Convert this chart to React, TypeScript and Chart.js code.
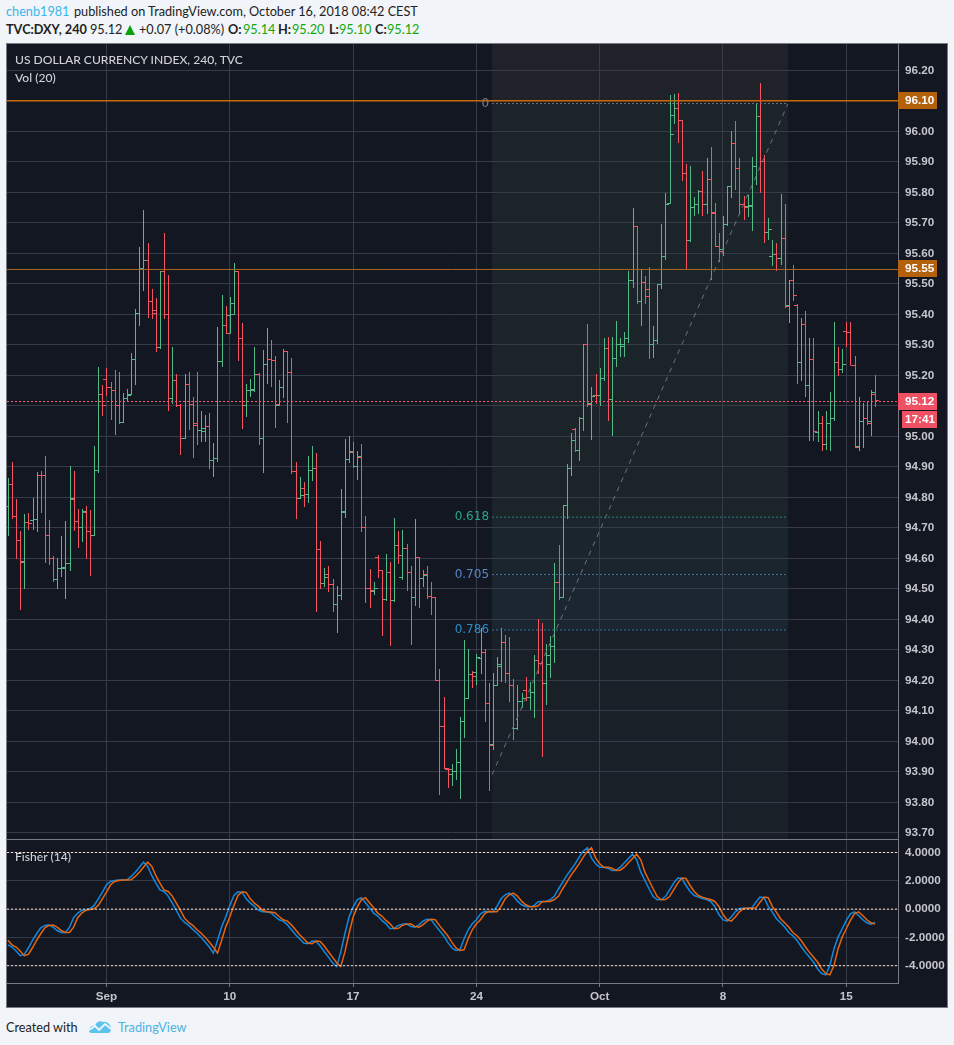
import React, { useEffect, useRef } from "react";
import { Chart, registerables, BarController } from "chart.js";

const opens = [94.773,94.845,94.740,94.661,94.589,94.720,94.727,94.730,94.874,94.874,
94.678,94.602,94.533,94.569,94.569,94.583,94.796,94.723,94.704,94.753,
94.691,94.678,94.891,95.140,95.189,95.163,95.153,95.101,95.048,95.127,
95.140,95.255,95.405,95.553,95.579,95.442,95.405,95.294,95.543,95.402,
95.127,95.186,95.104,94.996,95.173,95.107,95.042,95.022,95.019,95.035,
94.923,94.930,95.248,95.366,95.399,95.438,95.543,95.323,95.101,95.153,
95.153,95.205,94.996,95.238,95.255,95.251,95.104,95.163,95.279,95.212,
94.887,94.799,94.832,94.812,94.891,94.897,94.632,94.520,94.550,94.517,
94.451,94.481,94.753,94.927,94.953,94.901,94.933,94.704,94.504,94.494,
94.605,94.563,94.468,94.556,94.464,94.642,94.540,94.635,94.556,94.474,
94.605,94.537,94.550,94.478,94.474,94.202,94.051,93.910,93.894,93.904,
93.933,94.068,94.143,94.222,94.228,94.274,94.294,94.127,93.992,94.186,
94.248,94.327,94.225,94.183,94.042,94.133,94.169,94.146,94.163,94.268,
94.258,94.192,94.255,94.314,94.523,94.474,94.776,94.897,95.025,94.956,
95.061,95.304,95.108,95.136,95.137,95.192,95.291,95.123,95.258,95.301,
95.297,95.323,95.514,95.691,95.442,95.507,95.461,95.302,95.317,95.498,
95.592,95.764,96.055,96.078,96.038,95.864,95.645,95.753,95.763,95.805,
95.763,95.845,95.737,95.625,95.615,95.697,95.822,95.963,95.881,95.763,
95.756,95.756,95.887,96.051,95.901,95.671,95.592,95.597,95.583,95.651,
95.430,95.511,95.432,95.242,95.367,95.169,95.255,95.015,95.042,94.976,
95.045,95.061,95.245,95.222,95.346,95.343,95.235,94.969,95.051,95.061,
95.051,95.14];

const highs = [94.862,94.915,94.793,94.689,94.744,94.748,94.797,94.882,94.885,94.934,
94.725,94.607,94.600,94.672,94.721,94.902,94.885,94.761,94.761,94.770,
94.757,94.967,95.226,95.167,95.223,95.177,95.216,95.210,95.141,95.154,
95.272,95.416,95.620,95.741,95.633,95.482,95.452,95.543,95.666,95.528,
95.292,95.203,95.105,95.203,95.210,95.128,95.210,95.082,95.069,95.075,
94.977,95.357,95.462,95.426,95.456,95.567,95.543,95.370,95.170,95.187,
95.292,95.209,95.282,95.354,95.315,95.262,95.184,95.285,95.279,95.256,
94.915,94.866,94.849,94.934,94.967,94.944,94.656,94.567,94.574,94.531,
94.508,94.826,94.990,95.000,94.980,94.951,94.974,94.738,94.564,94.521,
94.610,94.563,94.613,94.587,94.731,94.689,94.692,94.646,94.574,94.728,
94.605,94.561,94.574,94.521,94.474,94.238,94.146,93.914,93.925,93.976,
94.081,94.333,94.304,94.232,94.287,94.373,94.301,94.192,94.225,94.278,
94.373,94.350,94.343,94.205,94.183,94.160,94.212,94.196,94.284,94.402,
94.389,94.320,94.346,94.586,94.642,94.776,94.908,95.010,95.026,95.064,
95.304,95.367,95.161,95.203,95.223,95.321,95.325,95.325,95.377,95.321,
95.341,95.541,95.748,95.691,95.548,95.525,95.554,95.361,95.498,95.695,
95.797,96.118,96.121,96.125,96.038,95.892,95.885,95.784,95.807,95.869,
95.911,95.948,95.764,95.666,95.721,95.822,96.000,96.033,95.911,95.787,
95.790,95.915,96.089,96.157,95.921,95.715,95.643,95.633,95.793,95.761,
95.511,95.561,95.435,95.387,95.410,95.321,95.321,95.082,95.066,95.082,
95.144,95.374,95.292,95.285,95.374,95.374,95.262,95.128,95.108,95.117,
95.151,95.20];

const lows = [94.675,94.732,94.601,94.433,94.502,94.695,94.695,94.689,94.751,94.587,
94.580,94.525,94.502,94.541,94.469,94.561,94.692,94.636,94.656,94.600,
94.544,94.675,94.883,95.069,95.134,95.056,95.007,95.043,95.048,95.118,
95.138,95.170,95.364,95.479,95.390,95.387,95.279,95.289,95.387,95.085,
95.108,95.098,94.941,94.993,95.023,94.931,94.974,94.984,94.984,94.895,
94.869,94.918,95.230,95.338,95.338,95.400,95.249,95.026,95.066,95.131,
95.148,94.974,94.882,95.174,95.164,95.030,95.102,95.128,95.046,94.879,
94.731,94.797,94.770,94.784,94.856,94.426,94.502,94.508,94.492,94.426,
94.357,94.466,94.734,94.915,94.898,94.859,94.689,94.456,94.439,94.482,
94.538,94.348,94.462,94.315,94.459,94.584,94.531,94.495,94.318,94.446,
94.439,94.508,94.469,94.416,94.202,93.826,93.914,93.849,93.856,93.875,
93.813,94.013,94.143,94.177,94.187,94.223,94.066,93.839,93.974,94.183,
94.197,94.193,94.131,94.007,94.039,94.111,94.134,94.107,94.079,94.225,
93.951,94.121,94.210,94.259,94.468,94.472,94.731,94.872,94.951,94.921,
95.020,95.098,94.990,95.108,95.104,95.184,95.052,95.003,95.230,95.262,
95.262,95.308,95.489,95.436,95.364,95.436,95.256,95.259,95.305,95.485,
95.580,95.764,96.026,95.964,95.839,95.551,95.639,95.725,95.731,95.725,
95.731,95.515,95.624,95.576,95.593,95.694,95.784,95.810,95.728,95.711,
95.721,95.675,95.826,95.800,95.636,95.646,95.561,95.544,95.564,95.423,
95.374,95.446,95.174,95.184,95.131,94.987,94.987,94.984,94.954,94.957,
94.954,95.052,95.200,95.210,95.295,95.236,94.964,94.954,94.966,95.039,
95.003,95.10];

const closes = [94.843,94.740,94.661,94.592,94.720,94.717,94.730,94.874,94.873,94.678,
94.602,94.531,94.569,94.570,94.583,94.799,94.723,94.704,94.756,94.691,
94.678,94.891,95.140,95.101,95.163,95.153,95.101,95.048,95.127,95.137,
95.255,95.405,95.553,95.579,95.442,95.415,95.294,95.543,95.402,95.127,
95.186,95.104,94.996,95.173,95.107,95.038,95.022,95.028,95.035,94.923,
94.930,95.248,95.366,95.340,95.400,95.543,95.323,95.101,95.153,95.154,
95.205,94.996,95.238,95.255,95.251,95.107,95.163,95.281,95.212,94.887,
94.799,94.809,94.812,94.891,94.897,94.632,94.520,94.540,94.517,94.451,
94.481,94.756,94.927,94.950,94.901,94.937,94.704,94.504,94.497,94.504,
94.563,94.468,94.556,94.464,94.642,94.612,94.635,94.556,94.474,94.605,
94.537,94.546,94.478,94.474,94.202,94.051,93.914,93.910,93.904,93.933,
94.068,94.143,94.222,94.215,94.278,94.294,94.127,93.989,94.186,94.255,
94.327,94.225,94.183,94.042,94.133,94.143,94.146,94.163,94.268,94.258,
94.192,94.284,94.314,94.523,94.474,94.776,94.895,94.989,94.954,95.061,
95.304,95.105,95.132,95.135,95.192,95.291,95.123,95.258,95.301,95.304,
95.323,95.514,95.691,95.442,95.507,95.484,95.302,95.317,95.498,95.592,
95.763,95.992,96.078,96.038,95.864,95.645,95.753,95.763,95.805,95.763,
95.845,95.733,95.625,95.609,95.697,95.822,95.963,95.881,95.763,95.753,
95.757,95.887,96.051,95.901,95.671,95.681,95.597,95.583,95.651,95.426,
95.511,95.464,95.242,95.367,95.169,95.255,95.019,95.042,94.976,95.045,
95.061,95.245,95.222,95.236,95.343,95.235,94.966,95.051,95.061,95.042,
95.144,95.12];

const fisher = [-2.52,-2.68,-2.96,-3.29,-3.20,-2.73,-2.21,-1.74,-1.32,-1.15,
-1.13,-1.27,-1.51,-1.65,-1.65,-1.27,-0.61,-0.28,-0.09,-0.02,
0.02,0.26,0.73,1.20,1.72,1.95,2.02,2.05,2.05,2.07,
2.31,2.61,2.96,3.32,3.04,2.38,1.84,1.36,1.25,0.92,
0.42,-0.09,-0.64,-0.94,-1.15,-1.44,-1.69,-1.98,-2.33,-2.68,
-3.11,-2.21,-1.27,-0.56,0.26,0.96,1.22,1.18,0.73,0.42,
0.19,-0.09,-0.19,-0.21,-0.26,-0.52,-0.75,-0.85,-1.11,-1.46,
-1.81,-2.09,-2.40,-2.45,-2.26,-2.28,-2.61,-3.01,-3.39,-3.79,
-4.05,-3.04,-1.74,-0.56,0.14,0.66,0.80,0.45,0.09,-0.28,
-0.49,-0.80,-1.04,-1.39,-1.36,-1.15,-1.06,-1.04,-1.22,-1.27,
-1.11,-0.85,-0.71,-0.75,-1.15,-1.51,-1.86,-2.33,-2.73,-2.92,
-2.87,-2.09,-1.46,-1.04,-0.75,-0.33,-0.16,-0.19,-0.19,0.19,
0.73,1.01,1.13,0.92,0.56,0.31,0.19,0.16,0.24,0.52,
0.54,0.54,0.68,0.92,1.44,1.91,2.38,2.78,3.20,3.67,
4.09,4.33,3.62,3.20,2.96,2.96,2.89,2.73,2.75,2.96,
3.27,3.58,3.88,3.48,2.61,2.02,1.44,0.89,0.66,0.68,
0.89,1.36,1.84,2.19,2.16,1.67,1.25,0.96,0.85,0.75,
0.68,0.54,0.19,-0.38,-0.75,-0.85,-0.56,-0.19,0.05,0.07,
0.07,0.09,0.49,0.85,0.80,0.19,-0.21,-0.68,-0.96,-1.27,
-1.65,-1.88,-2.21,-2.64,-3.04,-3.39,-3.74,-4.21,-4.56,-4.64,
-3.98,-2.80,-1.98,-1.39,-0.80,-0.33,-0.19,-0.45,-0.75,-0.96,
-1.06,-0.94];

const trigger = [-2.20,-2.52,-2.68,-2.96,-3.29,-3.20,-2.73,-2.21,-1.74,-1.32,
-1.15,-1.13,-1.27,-1.51,-1.65,-1.65,-1.27,-0.61,-0.28,-0.09,
-0.02,0.02,0.26,0.73,1.20,1.72,1.95,2.02,2.05,2.05,
2.07,2.31,2.61,2.96,3.32,3.04,2.38,1.84,1.36,1.25,
0.92,0.42,-0.09,-0.64,-0.94,-1.15,-1.44,-1.69,-1.98,-2.33,
-2.68,-3.11,-2.21,-1.27,-0.56,0.26,0.96,1.22,1.18,0.73,
0.42,0.19,-0.09,-0.19,-0.21,-0.26,-0.52,-0.75,-0.85,-1.11,
-1.46,-1.81,-2.09,-2.40,-2.45,-2.26,-2.28,-2.61,-3.01,-3.39,
-3.79,-4.05,-3.04,-1.74,-0.56,0.14,0.66,0.80,0.45,0.09,
-0.28,-0.49,-0.80,-1.04,-1.39,-1.36,-1.15,-1.06,-1.04,-1.22,
-1.27,-1.11,-0.85,-0.71,-0.75,-1.15,-1.51,-1.86,-2.33,-2.73,
-2.92,-2.87,-2.09,-1.46,-1.04,-0.75,-0.33,-0.16,-0.19,-0.19,
0.19,0.73,1.01,1.13,0.92,0.56,0.31,0.19,0.16,0.24,
0.52,0.54,0.54,0.68,0.92,1.44,1.91,2.38,2.78,3.20,
3.67,4.09,4.33,3.62,3.20,2.96,2.96,2.89,2.73,2.75,
2.96,3.27,3.58,3.88,3.48,2.61,2.02,1.44,0.89,0.66,
0.68,0.89,1.36,1.84,2.19,2.16,1.67,1.25,0.96,0.85,
0.75,0.68,0.54,0.19,-0.38,-0.75,-0.85,-0.56,-0.19,0.05,
0.07,0.07,0.09,0.49,0.85,0.80,0.19,-0.21,-0.68,-0.96,
-1.27,-1.65,-1.88,-2.21,-2.64,-3.04,-3.39,-3.74,-4.21,-4.56,
-4.64,-3.98,-2.80,-1.98,-1.39,-0.80,-0.33,-0.19,-0.45,-0.75,
-0.96,-1.06];

const priceTicks = [93.7,93.8,93.9,94,94.1,94.2,94.3,94.4,94.5,94.6,94.7,94.8,94.9,95,95.1,95.2,95.3,95.4,95.5,95.6,95.7,95.8,95.9,96,96.1,96.2];
const fisherTicks = [-4,-2,0,2,4];
const fisherBands = [-4,0,4];
const timeTickIndex = [24,54,84,114,144,174,204];
const timeTickLabels = ["Sep","10","17","24","Oct","8","15"];

const fibStartIndex = 117.8;
const fibEndIndex = 189.8;
const fibLevels = [
  { label: "0", price: 96.091, color: "#7d8085", line: "#6f7378" },
  { label: "0.618", price: 94.735, color: "#26a68a", line: "#2f8478" },
  { label: "0.705", price: 94.547, color: "#5b84c8", line: "#4f6f9c" },
  { label: "0.786", price: 94.365, color: "#2b8cc4", line: "#2a7aa8" },
];
const fibBandColors = ["#1f2229", "#1a2429", "#1b252e", "#1b2631", "#1a2027"];
const trendFrom = 93.89;
const trendTo = 96.09;

const priceLabels = [
  { text: "96.10", price: 96.1, color: "#b4610c" },
  { text: "95.55", price: 95.547, color: "#b4610c" },
  { text: "95.12", price: 95.114, color: "#ef5064" },
];

const GREEN = "#53b987";
const RED = "#f7525f";
const X_MIN = -0.207;
const X_MAX = 216.58;

class OhlcController extends BarController {
  static id = "ohlc";
  draw() {
    const chart = (this as any).chart;
    const { ctx, scales } = chart;
    const xs = scales.x;
    const ys = scales.y;
    ctx.save();
    ctx.lineWidth = 1;
    for (let i = 0; i < opens.length; i++) {
      const x = Math.round(xs.getPixelForValue(i)) + 0.5;
      const py = (v: number) => Math.round(ys.getPixelForValue(v));
      ctx.strokeStyle = closes[i] > opens[i] ? GREEN : RED;
      ctx.beginPath();
      ctx.moveTo(x, py(highs[i]));
      ctx.lineTo(x, py(lows[i]) + 1);
      ctx.moveTo(x - 3.5, py(opens[i]) + 0.5);
      ctx.lineTo(x, py(opens[i]) + 0.5);
      ctx.moveTo(x, py(closes[i]) + 0.5);
      ctx.lineTo(x + 3.5, py(closes[i]) + 0.5);
      ctx.stroke();
    }
    ctx.restore();
  }
}

Chart.register(...registerables, OhlcController as any);

const fibZones = {
  id: "fibZones",
  beforeDraw(chart: any) {
    const { ctx, scales } = chart;
    const l = scales.x.getPixelForValue(fibStartIndex);
    const r = scales.x.getPixelForValue(fibEndIndex);
    const stops = [scales.y.top, ...fibLevels.map((f) => scales.y.getPixelForValue(f.price)), scales.y.bottom];
    ctx.save();
    fibBandColors.forEach((c, i) => {
      ctx.fillStyle = c;
      ctx.fillRect(l, stops[i], r - l, stops[i + 1] - stops[i]);
    });
    ctx.restore();
  },
};

const overlayLabels = {
  id: "overlayLabels",
  afterDraw(chart: any) {
    const { ctx, scales, chartArea } = chart;
    ctx.save();
    ctx.textBaseline = "middle";
    ctx.strokeStyle = "#787b86";
    ctx.lineWidth = 1;
    ctx.beginPath();
    ctx.moveTo(0, Math.round(scales.y.bottom) + 0.5);
    ctx.lineTo(chartArea.right, Math.round(scales.y.bottom) + 0.5);
    ctx.stroke();
    ctx.font = "12px 'DejaVu Sans'";
    ctx.textAlign = "right";
    const fx = scales.x.getPixelForValue(fibStartIndex) - 3;
    fibLevels.forEach((f) => {
      ctx.fillStyle = f.color;
      ctx.fillText(f.label, fx, scales.y.getPixelForValue(f.price));
    });
    ctx.font = "bold 11.7px 'Liberation Sans'";
    ctx.textAlign = "left";
    const boxX = chartArea.right;
    priceLabels.forEach((p) => {
      const y = Math.round(scales.y.getPixelForValue(p.price));
      ctx.fillStyle = p.color;
      ctx.fillRect(boxX, y - 9, 39, 17);
      ctx.fillStyle = "#ffffff";
      ctx.fillText(p.text, boxX + 7, y);
    });
    const cy = Math.round(scales.y.getPixelForValue(95.114)) + 17;
    ctx.fillStyle = "#ef5064";
    ctx.fillRect(boxX + 4, cy - 8, 35, 17);
    ctx.fillStyle = "#ffffff";
    ctx.fillText("17:41", boxX + 7, cy + 0.5);
    ctx.restore();
  },
};

const hLine = (y: number, x0 = X_MIN, x1 = X_MAX) => [{ x: x0, y }, { x: x1, y }];
const lineBase = { type: "line", pointRadius: 0, fill: false, tension: 0, clip: false };
const noPad = (s: any) => { s.paddingTop = 0; s.paddingBottom = 0; s.paddingLeft = 0; s.paddingRight = 0; };

export default function App() {
  const ref = useRef<HTMLCanvasElement>(null);
  useEffect(() => {
    const datasets: any[] = [
      { ...lineBase, label: "96.10", data: hLine(priceLabels[0].price), borderColor: "#c8680a", borderWidth: 1.5, yAxisID: "y" },
      { ...lineBase, label: "95.55", data: hLine(priceLabels[1].price), borderColor: "#a8691f", borderWidth: 1, yAxisID: "y" },
      { ...lineBase, label: "last", data: hLine(priceLabels[2].price), borderColor: "#f4606c", borderWidth: 1, borderDash: [2, 2], yAxisID: "y" },
      ...fibLevels.map((f) => ({ ...lineBase, label: "fib " + f.label, data: hLine(f.price, fibStartIndex, fibEndIndex), borderColor: f.line, borderWidth: 1, borderDash: [2, 2], yAxisID: "y" })),
      { ...lineBase, label: "trend", data: [{ x: fibStartIndex, y: trendFrom }, { x: fibEndIndex, y: trendTo }], borderColor: "#6e7276", borderWidth: 1, borderDash: [5, 5], yAxisID: "y" },
      ...fisherBands.map((b) => ({ ...lineBase, label: "band " + b, data: hLine(b), borderColor: "#ffdcc4", borderWidth: 1, borderDash: [2, 2], yAxisID: "f" })),
      { ...lineBase, label: "Trigger", data: trigger.map((y, x) => ({ x, y })), borderColor: "#e8650d", borderWidth: 1.5, yAxisID: "f" },
      { ...lineBase, label: "Fisher", data: fisher.map((y, x) => ({ x, y })), borderColor: "#0f8ae2", borderWidth: 1.5, yAxisID: "f" },
      { type: "ohlc", label: "DXY", data: lows.map((l, x) => ({ x, y: [l, highs[x]] })), yAxisID: "y", order: 1 },
    ];
    const tickFont = { family: "'Liberation Sans'", size: 11.7, weight: "bold" };
    const chart = new Chart(ref.current as HTMLCanvasElement, {
      type: "line",
      data: { datasets },
      plugins: [fibZones, overlayLabels],
      options: {
        animation: false,
        responsive: false,
        events: [],
        layout: { padding: 0, autoPadding: false },
        plugins: { legend: { display: false }, tooltip: { enabled: false } },
        scales: {
          x: {
            type: "linear",
            min: X_MIN,
            max: X_MAX,
            offset: false,
            afterBuildTicks: (s: any) => { s.ticks = timeTickIndex.map((value) => ({ value })); },
            afterFit: (s: any) => { s.height = 24; noPad(s); },
            grid: { color: "#363a49", offset: false, tickColor: "#787b86", tickLength: 4, drawTicks: true },
            border: { color: "#787b86" },
            ticks: {
              autoSkip: false,
              maxRotation: 0,
              padding: 3,
              color: "#c4c6cb",
              font: tickFont,
              callback: (v: any) => timeTickLabels[timeTickIndex.indexOf(Number(v))] ?? "",
            },
          },
          y: {
            type: "linear",
            position: "right",
            min: 93.6797,
            max: 96.2862,
            stack: "panes",
            stackWeight: 795,
            afterBuildTicks: (s: any) => { s.ticks = priceTicks.map((value) => ({ value })); },
            afterFit: (s: any) => { s.width = 49; noPad(s); },
            grid: { color: "#363a49", drawTicks: false },
            border: { color: "#787b86" },
            ticks: {
              autoSkip: false,
              padding: 7,
              color: "#c4c6cb",
              font: tickFont,
              callback: (v: any) => Number(v).toFixed(2),
            },
          },
          f: {
            type: "linear",
            position: "right",
            min: -5.22,
            max: 4.954,
            stack: "panes",
            stackWeight: 144,
            afterBuildTicks: (s: any) => { s.ticks = fisherTicks.map((value) => ({ value })); },
            afterFit: (s: any) => { s.width = 49; noPad(s); },
            grid: { color: "#363a49", drawTicks: false },
            border: { color: "#787b86" },
            ticks: {
              autoSkip: false,
              padding: 7,
              color: "#c4c6cb",
              font: tickFont,
              callback: (v: any) => Number(v).toFixed(4),
            },
          },
        },
      } as any,
    } as any);
    return () => chart.destroy();
  }, []);

  const head: React.CSSProperties = { position: "absolute", whiteSpace: "nowrap", fontFamily: "Lato, 'Open Sans', sans-serif", fontSize: 12.7, lineHeight: "16px", color: "#222" };
  const at = (left: number, top: number, extra: React.CSSProperties = {}) => ({ ...head, left, top, ...extra });
  const quoteGreen = "#12a812";
  const legend: React.CSSProperties = { position: "absolute", left: 15, whiteSpace: "nowrap", fontFamily: "Lato, 'Open Sans', sans-serif", fontSize: 12.1, lineHeight: "16px", color: "#d0d2d6", fontWeight: 500 };

  return (
    <div style={{ position: "absolute", left: 0, top: 0, width: 954, height: 1045, background: "#f1f4f8", overflow: "hidden" }}>
      <span style={at(6, 3, { color: "#3ab4e8" })}>chenb1981</span>
      <span style={at(74, 3)}>published on TradingView.com, October 16, 2018 08:42 CEST</span>
      <span style={at(6, 21, { fontWeight: 700 })}>TVC:DXY, 240</span>
      <span style={at(90, 21)}>95.12</span>
      <span style={{ position: "absolute", left: 125, top: 25, width: 0, height: 0, borderLeft: "5.5px solid transparent", borderRight: "5.5px solid transparent", borderBottom: "10px solid #0ba10b" }} />
      <span style={at(139, 21)}>+0.07 (+0.08%)</span>
      <span style={at(228, 21, { fontWeight: 700 })}>O:</span>
      <span style={at(243, 21, { color: quoteGreen })}>95.14</span>
      <span style={at(278, 21, { fontWeight: 700 })}>H:</span>
      <span style={at(292, 21, { color: quoteGreen })}>95.20</span>
      <span style={at(329, 21, { fontWeight: 700 })}>L:</span>
      <span style={at(339, 21, { color: quoteGreen })}>95.10</span>
      <span style={at(375, 21, { fontWeight: 700 })}>C:</span>
      <span style={at(387, 21, { color: quoteGreen })}>95.12</span>

      <div style={{ position: "absolute", left: 6, top: 43, width: 940, height: 963, border: "1px solid #787b86", background: "#131722" }}>
        <canvas ref={ref} width={940} height={963} style={{ display: "block" }} />
      </div>

      <span style={{ ...legend, top: 52 }}>US DOLLAR CURRENCY INDEX, 240, TVC</span>
      <span style={{ ...legend, top: 70 }}>Vol (20)</span>
      <span style={{ ...legend, top: 849 }}>Fisher (14)</span>

      <span style={at(6, 1019)}>Created with</span>
      <svg style={{ position: "absolute", left: 88, top: 1018 }} width={24} height={16} viewBox="0 0 24 16">
        <path d="M1 13 C1 9 4 7 7 8 C8 4 12 2 15 4 C19 3 23 7 23 11 C23 14 21 15 20 15 L4 15 C2 15 1 14 1 13 Z" fill="#5cc3ec" />
        <path d="M1 12 L7 8 L11 12 L17 6 L23 11" fill="none" stroke="#f1f4f8" strokeWidth="1.8" />
      </svg>
      <span style={at(118, 1019, { color: "#4db3e6" })}>TradingView</span>
    </div>
  );
}
